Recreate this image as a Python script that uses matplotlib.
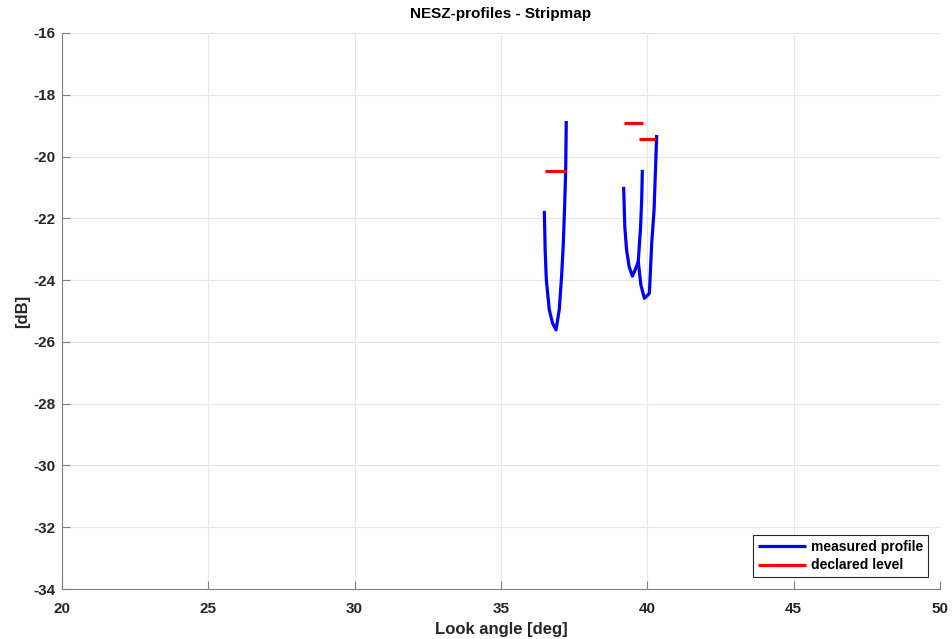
import matplotlib
matplotlib.use("Agg")
import matplotlib.pyplot as plt
import numpy as np

# measured NESZ profiles, one array pair per sub-swath
swath1_angle = [36.48, 36.51, 36.55, 36.65, 36.76, 36.88, 36.99, 37.07, 37.13, 37.17, 37.21, 37.23]
swath1_nesz = [-21.76, -23.06, -24.00, -24.96, -25.39, -25.61, -24.96, -23.89, -22.80, -21.73, -20.47, -18.85]

swath2_angle = [39.19, 39.23, 39.29, 39.38, 39.49, 39.61, 39.69, 39.77, 39.81, 39.83]
swath2_nesz = [-20.98, -22.27, -23.02, -23.57, -23.87, -23.61, -23.40, -22.27, -21.30, -20.43]

swath3_angle = [39.69, 39.78, 39.90, 40.07, 40.15, 40.23, 40.27, 40.32]
swath3_nesz = [-23.40, -24.16, -24.59, -24.43, -22.81, -21.73, -20.65, -19.30]

# declared levels: (start angle, end angle, level)
declared_start = [36.50, 39.20, 39.71]
declared_end = [37.23, 39.85, 40.29]
declared_level = [-20.47, -18.92, -19.43]

plt.rcParams["font.family"] = ["Liberation Sans", "DejaVu Sans"]
plt.rcParams["font.weight"] = "bold"
plt.rcParams["axes.unicode_minus"] = False

fig = plt.figure(figsize=(9.52, 6.39), dpi=100)
ax = fig.add_axes([0.0651, 0.0782, 0.9223, 0.8702])

blue_kw = dict(color="#0000ff", lw=2.3, solid_capstyle="butt")
ax.plot(swath1_angle, swath1_nesz, label="measured profile", **blue_kw)
ax.plot(swath2_angle, swath2_nesz, **blue_kw)
ax.plot(swath3_angle, swath3_nesz, **blue_kw)

for i in range(len(declared_level)):
    ax.plot([declared_start[i], declared_end[i]], [declared_level[i]] * 2,
            color="#ff0000", lw=2.3, solid_capstyle="butt",
            label="declared level" if i == 0 else None)

ax.set_xlim(20, 50)
ax.set_ylim(-34, -16)
ax.set_xticks(np.arange(20, 51, 5))
ax.set_yticks(np.arange(-34, -15, 2))
ax.grid(True, color="#e6e6e6", lw=0.8)
ax.set_axisbelow(True)

for side in ["top", "right"]:
    ax.spines[side].set_visible(False)
for side in ["left", "bottom"]:
    ax.spines[side].set_color("#808080")
ax.tick_params(direction="in", length=6, color="#808080", labelsize=11,
               labelcolor="#262626")
ax.tick_params(axis="x", pad=9)
ax.tick_params(axis="y", pad=5)

ax.set_xlabel("Look angle [deg]", fontsize=12, fontweight="bold", color="#262626", labelpad=5)
ax.set_ylabel("[dB]", fontsize=12, fontweight="bold", color="#262626", labelpad=2)
ax.set_title("NESZ-profiles - Stripmap", fontsize=11, fontweight="bold", color="#000000", pad=11)

leg = ax.legend(loc="lower right", fontsize=10, fancybox=False, framealpha=1,
                edgecolor="#262626", handlelength=3.4, borderaxespad=0.85,
                handletextpad=0.4, borderpad=0.35, labelspacing=0.3)
leg.get_frame().set_linewidth(0.8)
for t in leg.get_texts():
    t.set_fontweight("bold")

fig.savefig("out.png", dpi=100)
